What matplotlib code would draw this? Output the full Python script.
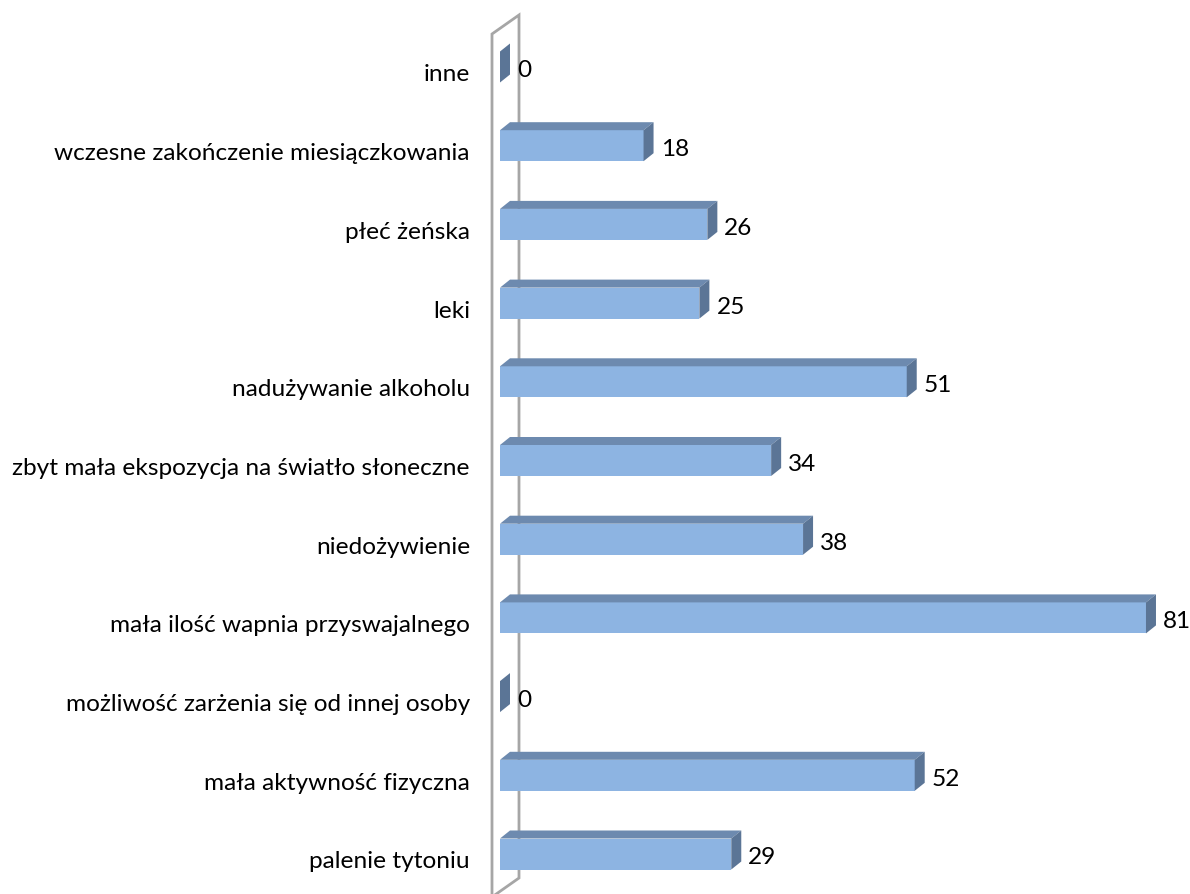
import matplotlib.pyplot as plt
from matplotlib.patches import Polygon

categories = ['palenie tytoniu', 'mała aktywność fizyczna', 'możliwość zarżenia się od innej osoby',
              'mała ilość wapnia przyswajalnego', 'niedożywienie',
              'zbyt mała ekspozycja na światło słoneczne', 'nadużywanie alkoholu', 'leki',
              'płeć żeńska', 'wczesne zakończenie miesiączkowania', 'inne']
values = [29, 52, 0, 81, 38, 34, 51, 25, 26, 18, 0]

plt.rcParams['font.family'] = ['Lato', 'DejaVu Sans']

W, H = 1190, 895
px_x = 7.975      # pixels per value unit
px_y = 78.7       # pixels per category
x0_px, y0_px = 500, 855   # pixel of value 0 / centre of first category (from top)

fig = plt.figure(figsize=(W / 100, H / 100), dpi=100)
ax = fig.add_axes([0, 0, 1, 1])
ax.set_xlim(-x0_px / px_x, (W - x0_px) / px_x)
ax.set_ylim(-(H - y0_px) / px_y, y0_px / px_y)
ax.axis('off')

front = '#8db4e2'
top_c = '#6d8aaf'
side_c = '#5b7596'
bh = 31 / px_y
dx = 10 / px_x
dy = 8 / px_y

# back wall (drawn first)
wl = -8 / px_x
wdx = 27 / px_x
wdy = 19 / px_y
wtop = (y0_px - 35) / px_y
wbot = (y0_px - 879) / px_y - wdy
wall = [(wl, wbot), (wl, wtop), (wl + wdx, wtop + wdy), (wl + wdx, wbot + wdy), (wl, wbot)]
ax.plot([p[0] for p in wall], [p[1] for p in wall], color='#a6a6a6', lw=2, zorder=1,
        solid_joinstyle='miter')

fs = 17.6
ypos = list(range(len(categories)))
ax.barh(ypos, values, height=bh, left=0, color=front, edgecolor='none', zorder=3)
for y, v, c in zip(ypos, values, categories):
    t = y + bh / 2
    b = y - bh / 2
    ax.add_patch(Polygon([(0, t), (v, t), (v + dx, t + dy), (dx, t + dy)],
                         closed=True, facecolor=top_c, edgecolor='none', zorder=3))
    ax.add_patch(Polygon([(v, b), (v, t), (v + dx, t + dy), (v + dx, b + dy)],
                         closed=True, facecolor=side_c, edgecolor='none', zorder=3))
    ax.text(v + dx + 7 / px_x, y - 3 / px_y, str(v), ha='left', va='center',
            fontsize=fs, color='black', zorder=4)
    ax.text(-30 / px_x, y - 7 / px_y, c, ha='right', va='center',
            fontsize=fs, color='black', zorder=4)

fig.savefig('out.png', dpi=100, facecolor='white')
